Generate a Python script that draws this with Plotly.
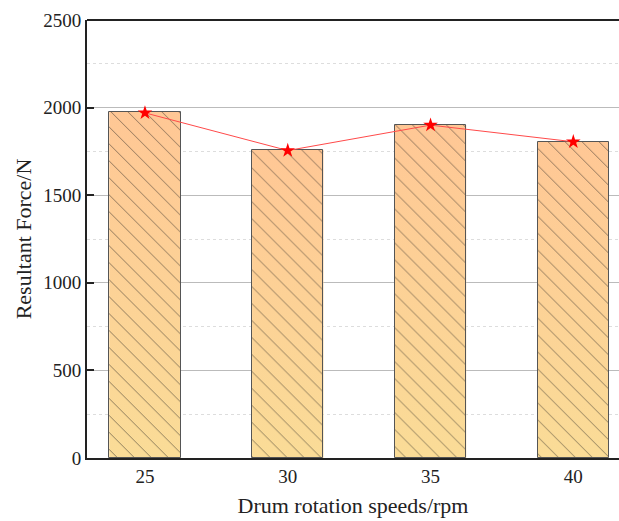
import plotly.graph_objects as go

categories = ["25", "30", "35", "40"]
bar_values = [1975, 1760, 1900, 1805]
line_values = [1970, 1755, 1900, 1805]
y_ticks = [0, 500, 1000, 1500, 2000, 2500]

BAR_W = 0.5
TOP_C = "#FFC795"
BOT_C = "#FADC97"
FONT = "Liberation Serif, Times New Roman, serif"

fig = go.Figure()
xs = list(range(len(categories)))

# gradient fills (main axes)
for i, v in zip(xs, bar_values):
    fig.add_trace(go.Scatter(
        x=[i - BAR_W / 2, i + BAR_W / 2, i + BAR_W / 2, i - BAR_W / 2, i - BAR_W / 2],
        y=[0, 0, v, v, 0],
        mode="lines", fill="toself", line=dict(width=0),
        fillgradient=dict(type="vertical", colorscale=[[0, BOT_C], [1, TOP_C]]),
        showlegend=False, hoverinfo="skip", xaxis="x", yaxis="y"))

# hatched bars on overlay axes
fig.add_trace(go.Bar(
    x=xs, y=bar_values, width=BAR_W, xaxis="x2", yaxis="y2",
    marker=dict(color="rgba(0,0,0,0)", line=dict(color="#555555", width=1),
                pattern=dict(shape="\\", fgcolor="#1A1A1A", bgcolor="rgba(0,0,0,0)",
                             size=12, solidity=0.08)),
    showlegend=False))

fig.add_trace(go.Scatter(
    x=xs, y=line_values, mode="lines+markers", xaxis="x2", yaxis="y2",
    line=dict(color="#FF4A4A", width=1),
    marker=dict(symbol="star", size=11, color="#FF0000", line=dict(width=0)),
    showlegend=False))

xr = [-0.406, 3.32]
yr = [0, 2500]
fig.update_layout(
    width=619, height=521,
    margin=dict(l=87, r=0, t=20, b=63),
    plot_bgcolor="white", paper_bgcolor="white",
    font=dict(family=FONT, color="#222222", size=19),
    bargap=0,
    xaxis=dict(range=xr, tickvals=xs, ticktext=categories, showgrid=False,
               showline=True, linecolor="#222222", linewidth=2, ticks="",
               zeroline=False, tickfont=dict(size=19),
               title=dict(text="Drum rotation speeds/rpm", font=dict(size=22), standoff=12)),
    yaxis=dict(range=yr, tickvals=y_ticks, showgrid=True, gridcolor="#BBBBBB", gridwidth=1,
               showline=True, linecolor="#222222", linewidth=2, ticks="inside",
               ticklen=7, tickwidth=2, tickcolor="#222222", zeroline=False,
               tickfont=dict(size=19),
               minor=dict(dtick=250, showgrid=True, gridcolor="#DDDDDD", griddash="dot",
                          gridwidth=1, ticks=""),
               title=dict(text="Resultant Force/N", font=dict(size=22), standoff=6)),
    xaxis2=dict(range=xr, overlaying="x", visible=False, showgrid=False),
    yaxis2=dict(range=yr, overlaying="y", visible=False, showgrid=False),
    shapes=[dict(type="line", xref="paper", yref="paper", x0=0, x1=1, y0=1, y1=1,
                 line=dict(color="#222222", width=2))],
)

fig.write_html("out.html")
